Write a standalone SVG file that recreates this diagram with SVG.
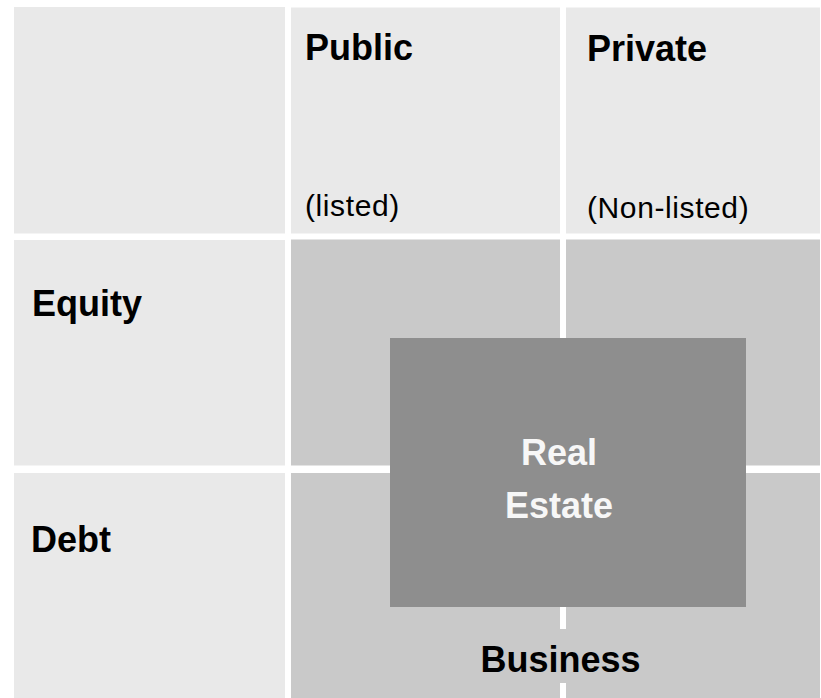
<svg xmlns="http://www.w3.org/2000/svg" width="821" height="698" viewBox="0 0 821 698">
  <style>
    .hdr { fill: #e9e9e9; }
    .cell { fill: #c9c9c9; }
    .core { fill: #8e8e8e; }
    .b { font-family: "Liberation Sans", Arial, sans-serif; font-weight: bold; font-size: 36px; fill: #000; }
    .r { font-family: "Liberation Sans", Arial, sans-serif; font-size: 30px; letter-spacing: 0.6px; fill: #000; }
    .w { font-family: "Liberation Sans", Arial, sans-serif; font-weight: bold; font-size: 36px; fill: #f7f7f7; text-anchor: middle; }
    .mid { text-anchor: middle; }
  </style>

  <rect width="821" height="698" fill="#ffffff"/>

  <!-- header row -->
  <g id="corner">
    <rect class="hdr" x="14" y="7" width="271" height="226.5"/>
  </g>
  <g id="public">
    <rect class="hdr" x="291" y="7.5" width="269" height="226"/>
    <text class="b" x="305" y="60">Public</text>
    <text class="r" x="305" y="216">(listed)</text>
  </g>
  <g id="private">
    <rect class="hdr" x="566" y="7.5" width="254" height="226"/>
    <text class="b" x="587" y="61">Private</text>
    <text class="r" x="587" y="218">(Non-listed)</text>
  </g>

  <!-- row labels -->
  <g id="equity">
    <rect class="hdr" x="14" y="240" width="271" height="225.5"/>
    <text class="b" x="32" y="316">Equity</text>
  </g>
  <g id="debt">
    <rect class="hdr" x="14" y="473" width="271" height="225"/>
    <text class="b" x="31" y="552">Debt</text>
  </g>

  <!-- quadrants -->
  <g id="public-equity">
    <rect class="cell" x="291" y="239.5" width="269" height="226"/>
  </g>
  <g id="private-equity">
    <rect class="cell" x="566" y="239.5" width="254" height="226"/>
  </g>
  <g id="public-debt">
    <rect class="cell" x="291" y="473" width="269" height="225"/>
  </g>
  <g id="private-debt">
    <rect class="cell" x="566" y="473" width="254" height="225"/>
  </g>

  <!-- overlay spanning all four quadrants -->
  <g id="real-estate">
    <rect class="core" x="390" y="338" width="356" height="269"/>
    <text class="w" x="559" y="465">Real</text>
    <text class="w" x="559" y="518">Estate</text>
  </g>

  <g id="business">
    <rect class="cell" x="470" y="629" width="180" height="54"/>
    <text class="b mid" x="560.5" y="672">Business</text>
  </g>
</svg>
